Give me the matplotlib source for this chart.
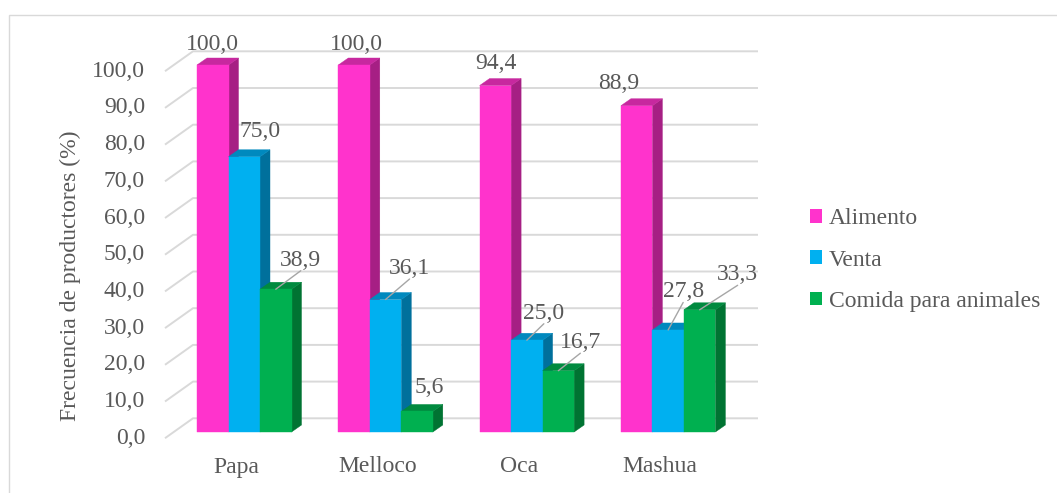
import matplotlib
matplotlib.use("Agg")
import matplotlib.pyplot as plt
from matplotlib.patches import Polygon, Rectangle, Patch

# ---- data ----
categories = ["Papa", "Melloco", "Oca", "Mashua"]
series_names = ["Alimento", "Venta", "Comida para animales"]
alimento = [100.0, 100.0, 94.4, 88.9]
venta = [75.0, 36.1, 25.0, 27.8]
comida = [38.9, 5.6, 16.7, 33.3]
y_ticks = [0, 10, 20, 30, 40, 50, 60, 70, 80, 90, 100]

series_values = [alimento, venta, comida]

# ---- style ----
# (front, top, side) shades for each series
shades = [
    ("#FF33CC", "#C7289F", "#A61F84"),
    ("#00B0F0", "#0089BE", "#00709C"),
    ("#00B050", "#008A3F", "#007332"),
]
text_color = "#595959"
grid_color = "#D9D9D9"
leader_color = "#A6A6A6"
FS = 17

# label offsets (pixels, from the centre of each bar's front top edge) and leader flags
label_offsets = [
    [(0, 21), (2, 21), (1, 22), (-18, 22)],
    [(16, 25), (24, 31), (17, 27), (15, 38)],
    [(25, 29), (12, 24), (22, 28), (38, 35)],
]
label_leaders = [
    [False, False, False, False],
    [False, True, True, True],
    [True, False, True, True],
]

W, H = 1057, 493
plt.rcParams["font.family"] = ["Liberation Serif", "DejaVu Serif"]
plt.rcParams["font.size"] = FS

fig = plt.figure(figsize=(W / 100, H / 100), dpi=100)

# pixel geometry of the plotting box
PX_X = 141.3      # pixels per category step
PX_Y = 3.67       # pixels per percentage point
X0_PX = 244.25    # pixel x of the first category centre
Y0_PX = 432.0     # pixel y of value 0 on the bar plane
box_l, box_r, box_t, box_b = 150, 770, 20, 470

ax = fig.add_axes([box_l / W, (H - box_b) / H, (box_r - box_l) / W, (box_b - box_t) / H])
ax.set_xlim((box_l - X0_PX) / PX_X, (box_r - X0_PX) / PX_X)
ax.set_ylim((Y0_PX - box_b) / PX_Y, (Y0_PX - box_t) / PX_Y)
ax.set_axis_off()


def dx(px):
    return px / PX_X


def dy(px):
    return px / PX_Y


bar_w = dx(31.5)
depth_x, depth_y = dx(10), dy(7)

# walls: front-axis plane and back-wall plane
front_x, back_x, end_x = dx(165 - X0_PX), dx(193 - X0_PX), dx(758 - X0_PX)
front_off, back_off = -dy(6.2), dy(13.7)

for v in y_ticks:
    ax.plot([front_x, back_x, end_x],
            [v + front_off, v + back_off, v + back_off],
            color=grid_color, lw=1.4, zorder=1, clip_on=False,
            solid_capstyle="butt")
    ax.text(dx(145 - X0_PX), v + front_off, f"{v:.1f}".replace(".", ","),
            ha="right", va="center", color=text_color, fontsize=FS)

# bars: front face from ax.bar, top and side faces from the same values
for j, (vals, (c_front, c_top, c_side)) in enumerate(zip(series_values, shades)):
    lefts = [i - 1.5 * bar_w + j * bar_w for i in range(len(categories))]
    z = 3 + j
    ax.bar(lefts, vals, width=bar_w, align="edge", color=c_front,
           edgecolor=c_front, linewidth=0.3, zorder=z + 0.5)
    for i, (x0, v) in enumerate(zip(lefts, vals)):
        x1 = x0 + bar_w
        side = Polygon([(x1, 0), (x1 + depth_x, depth_y),
                        (x1 + depth_x, v + depth_y), (x1, v)],
                       closed=True, facecolor=c_side, edgecolor=c_side,
                       lw=0.3, zorder=z)
        top = Polygon([(x0, v), (x1, v), (x1 + depth_x, v + depth_y),
                       (x0 + depth_x, v + depth_y)],
                      closed=True, facecolor=c_top, edgecolor=c_top,
                      lw=0.3, zorder=z)
        ax.add_patch(side)
        ax.add_patch(top)

        anchor = (x0 + bar_w / 2, v)
        ox, oy = label_offsets[j][i]
        kw = {}
        if label_leaders[j][i]:
            kw["arrowprops"] = dict(arrowstyle="-", color=leader_color, lw=1.0,
                                    shrinkA=0, shrinkB=0, patchA=None,
                                    relpos=(0.5, 0.0))
        ax.annotate(f"{v:.1f}".replace(".", ","), xy=anchor, xytext=(ox, oy),
                    textcoords="offset pixels", ha="center", va="center",
                    color=text_color, fontsize=FS, zorder=10, **kw)

# category labels on the front plane
for i, name in enumerate(categories):
    ax.text(i - dx(8), dy(Y0_PX - 467), name, ha="center", va="center",
            color=text_color, fontsize=FS)

fig.text(70 / W, 1 - 276 / H, "Frecuencia de productores (%)", rotation=90,
         ha="center", va="center", color=text_color, fontsize=FS)

handles = [Patch(facecolor=s[0], edgecolor="none") for s in shades]
leg = fig.legend(handles, series_names, loc="center left",
                 bbox_to_anchor=(810 / W, 1 - 260 / H), frameon=False,
                 handlelength=0.52, handleheight=0.52, handletextpad=0.28,
                 labelspacing=0.86, borderpad=0, borderaxespad=0, fontsize=FS)
for t in leg.get_texts():
    t.set_color(text_color)

# chart-area border
fig.add_artist(Rectangle((8.5 / W, -0.1), 1.2, 1.1 - 15.5 / H,
                         transform=fig.transFigure, fill=False,
                         edgecolor=grid_color, lw=1.0))

fig.savefig("out.png", dpi=100)
